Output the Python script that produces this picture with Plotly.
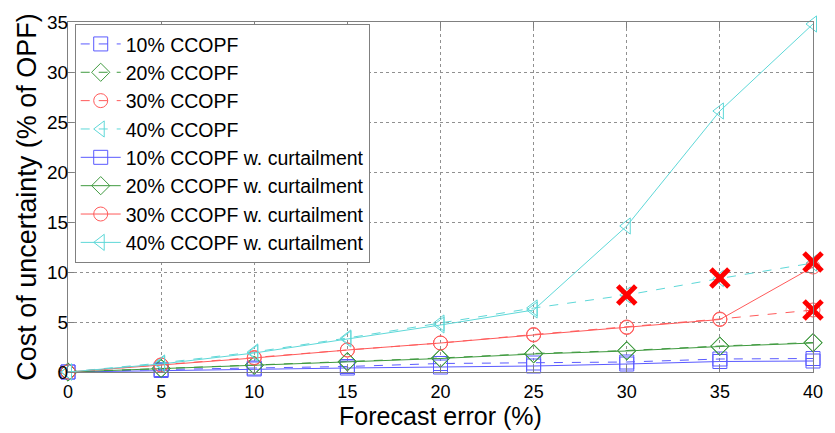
import plotly.graph_objects as go

x = [0, 5, 10, 15, 20, 25, 30, 35, 40]

ccopf10 = [0, 0.25, 0.4, 0.55, 0.85, 0.9, 1.0, 1.3, 1.35]
ccopf20 = [0, 0.35, 0.7, 1.05, 1.4, 1.85, 2.15, 2.6, 2.95]
ccopf30 = [0, 0.7, 1.45, 2.2, 2.9, 3.75, 4.5, 5.3, 6.2]
ccopf40 = [0, 0.9, 2.0, 3.4, 4.9, 6.4, 7.7, 9.35, 10.9]

curt10 = [0, 0.15, 0.3, 0.4, 0.5, 0.6, 0.8, 1.05, 1.1]
curt20 = [0, 0.35, 0.65, 1.0, 1.35, 1.8, 2.1, 2.55, 2.9]
curt30 = [0, 0.7, 1.4, 2.2, 2.9, 3.7, 4.45, 5.25, 10.5]
curt40 = [0, 0.8, 1.9, 3.3, 4.7, 6.2, 14.6, 26.1, 34.8]

infeasible_x = [30, 35, 40, 40]
infeasible_y = [7.7, 9.4, 11.0, 6.2]

colors = {"10": "#5a5aff", "20": "#3f9a3f", "30": "#ff5a5a", "40": "#5ed8d8"}
symbols = {"10": "square-open", "20": "diamond-open", "30": "circle-open", "40": "triangle-left-open"}

FONT = "Arial, Liberation Sans, sans-serif"

fig = go.Figure()

dashed = [("10", ccopf10), ("20", ccopf20), ("30", ccopf30), ("40", ccopf40)]
solid = [("10", curt10), ("20", curt20), ("30", curt30), ("40", curt40)]

for k, ys in dashed:
    fig.add_trace(go.Scatter(
        x=x, y=ys, mode="lines+markers", name=f"{k}% CCOPF",
        line=dict(color=colors[k], width=1, dash="dash"),
        marker=dict(symbol=symbols[k], size=14, color=colors[k], line=dict(width=1, color=colors[k])),
        cliponaxis=False,
    ))
for k, ys in solid:
    fig.add_trace(go.Scatter(
        x=x, y=ys, mode="lines+markers", name=f"{k}% CCOPF w. curtailment",
        line=dict(color=colors[k], width=1, dash="solid"),
        marker=dict(symbol=symbols[k], size=14, color=colors[k], line=dict(width=1, color=colors[k])),
        cliponaxis=False,
    ))

fig.add_trace(go.Scatter(
    x=infeasible_x, y=infeasible_y, mode="markers", showlegend=False,
    marker=dict(symbol="x-thin", size=18, line=dict(width=5, color="#ff0000")),
    cliponaxis=False,
))

axis_common = dict(
    showline=True, linecolor="#808080", linewidth=1, mirror="ticks",
    ticks="inside", ticklen=6, tickcolor="#808080",
    showgrid=True, gridcolor="#909090", griddash="dot", gridwidth=1,
    zeroline=False,
)

fig.update_xaxes(range=[0, 40], tickvals=[0, 5, 10, 15, 20, 25, 30, 35, 40],
                 tickfont=dict(family=FONT, size=18, color="#000"),
                 ticklabelstandoff=3,
                 title=dict(text="Forecast error (%)", standoff=2,
                            font=dict(family=FONT, size=25, color="#000")),
                 **axis_common)
fig.update_yaxes(range=[0, 35], tickvals=[0, 5, 10, 15, 20, 25, 30, 35],
                 tickfont=dict(family=FONT, size=19, color="#000"),
                 ticklabelstandoff=-5,
                 title=dict(text="Cost of uncertainty (% of OPF)", standoff=2,
                            font=dict(family=FONT, size=27, color="#000")),
                 **axis_common)

fig.update_layout(
    width=835, height=433,
    margin=dict(l=68, r=12, t=15, b=56),
    paper_bgcolor="white", plot_bgcolor="white",
    showlegend=True,
    legend=dict(
        x=0.009, y=0.995, xanchor="left", yanchor="top",
        bgcolor="white", bordercolor="#808080", borderwidth=1,
        font=dict(family=FONT, size=19.5, color="#000"),
        tracegroupgap=0, itemwidth=40,
    ),
)

fig.write_html("out.html")
